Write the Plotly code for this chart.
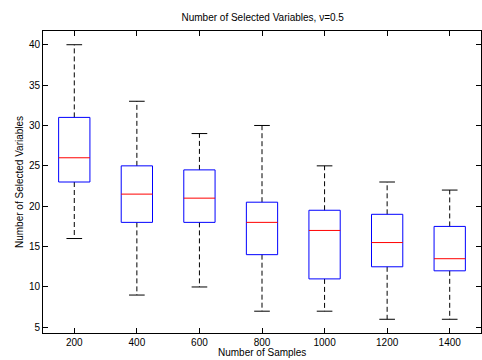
import plotly.graph_objects as go

samples = ["200", "400", "600", "800", "1000", "1200", "1400"]
lower_whisker = [16, 9, 10, 7, 7, 6, 6]
q1 = [23, 18, 18, 14, 11, 12.5, 12]
median = [26, 21.5, 21, 18, 17, 15.5, 13.5]
q3 = [31, 25, 24.5, 20.5, 19.5, 19, 17.5]
upper_whisker = [40, 33, 29, 30, 25, 23, 22]
y_ticks = [5, 10, 15, 20, 25, 30, 35, 40]

half_box = 0.25
half_cap = 0.125

box_x, box_y = [], []
med_x, med_y = [], []
wh_x, wh_y = [], []
cap_x, cap_y = [], []
for i in range(len(samples)):
    p = i + 1
    box_x += [p - half_box, p + half_box, p + half_box, p - half_box, p - half_box, None]
    box_y += [q1[i], q1[i], q3[i], q3[i], q1[i], None]
    med_x += [p - half_box, p + half_box, None]
    med_y += [median[i], median[i], None]
    wh_x += [p, p, None, p, p, None]
    wh_y += [q3[i], upper_whisker[i], None, q1[i], lower_whisker[i], None]
    cap_x += [p - half_cap, p + half_cap, None, p - half_cap, p + half_cap, None]
    cap_y += [upper_whisker[i], upper_whisker[i], None, lower_whisker[i], lower_whisker[i], None]

fig = go.Figure()
fig.add_trace(go.Scatter(x=wh_x, y=wh_y, mode="lines",
                         line=dict(color="black", width=1, dash="5px,3px"), hoverinfo="skip"))
fig.add_trace(go.Scatter(x=cap_x, y=cap_y, mode="lines",
                         line=dict(color="black", width=1), hoverinfo="skip"))
fig.add_trace(go.Scatter(x=box_x, y=box_y, mode="lines",
                         line=dict(color="#0000ff", width=1), hoverinfo="skip"))
fig.add_trace(go.Scatter(x=med_x, y=med_y, mode="lines",
                         line=dict(color="#ff0000", width=1), hoverinfo="skip"))

font = dict(family="Liberation Sans, Arial, Helvetica, sans-serif", size=10, color="black")

fig.update_layout(
    width=482, height=360,
    margin=dict(l=43, r=1, t=31, b=27),
    paper_bgcolor="white", plot_bgcolor="white",
    showlegend=False,
    font=font,
    title=dict(text="Number of Selected Variables, ν=0.5", x=0.545, xanchor="center",
               y=1 - 17 / 360, yanchor="middle", font=dict(size=10)),
    xaxis=dict(range=[0.5, 7.5], tickmode="array", tickvals=list(range(1, len(samples) + 1)),
               ticktext=samples, ticks="inside", ticklen=5, tickcolor="black",
               showline=True, linecolor="black", linewidth=1, mirror="ticks",
               showgrid=False, zeroline=False, fixedrange=True),
    yaxis=dict(range=[4.3, 41.7], tickmode="array", tickvals=y_ticks,
               ticks="inside", ticklen=5, tickcolor="black",
               showline=True, linecolor="black", linewidth=1, mirror="ticks",
               showgrid=False, zeroline=False, fixedrange=True),
    annotations=[
        dict(text="Number of Samples", xref="paper", yref="paper", x=0.5, y=(333 - 352) / 302,
             xanchor="center", yanchor="middle", showarrow=False, font=dict(size=10)),
        dict(text="Number of Selected Variables", xref="paper", yref="paper",
             x=(19 - 43) / 438, y=0.5, textangle=-90, xanchor="center", yanchor="middle",
             showarrow=False, font=dict(size=10)),
    ],
)

fig.write_html("out.html")
